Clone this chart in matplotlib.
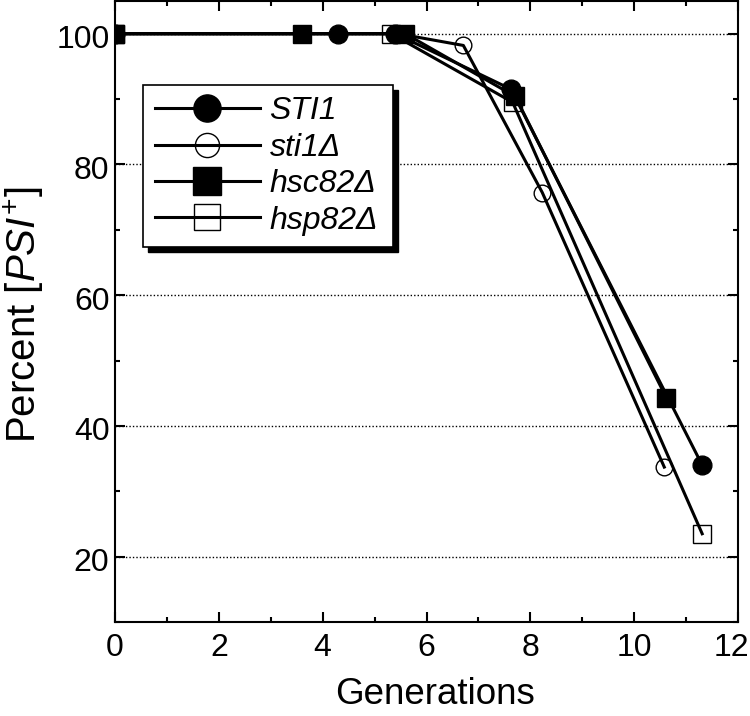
import matplotlib
matplotlib.use("Agg")
import matplotlib.pyplot as plt
from matplotlib.ticker import FixedLocator
from matplotlib.patches import Rectangle
from matplotlib.transforms import ScaledTranslation

plt.rcParams['font.family'] = ['Liberation Sans', 'DejaVu Sans']
plt.rcParams['mathtext.fontset'] = 'custom'
plt.rcParams['mathtext.rm'] = 'Liberation Sans'
plt.rcParams['mathtext.it'] = 'Liberation Sans:italic'

# Data (generations vs percent [PSI+])
sti1_x = [0, 4.3, 5.4, 7.63, 11.31]
sti1_y = [100, 100, 100, 91.5, 34.0]
sti1d_x = [0, 5.45, 6.71, 8.23, 10.58]
sti1d_y = [100, 100, 98.2, 75.7, 33.7]
hsc82d_x = [0, 3.6, 5.59, 7.71, 10.62]
hsc82d_y = [100, 100, 100, 90.4, 44.3]
hsp82d_x = [0, 5.32, 7.66, 11.31]
hsp82d_y = [100, 100, 89.5, 23.5]
labels = ['STI1', 'sti1Δ', 'hsc82Δ', 'hsp82Δ']
x_major = [0, 2, 4, 6, 8, 10, 12]
x_minor = [1, 3, 5, 7, 9, 11]
y_major = [20, 40, 60, 80, 100]
y_minor = [10, 30, 50, 70, 90]

fig = plt.figure(figsize=(7.5, 7.16), dpi=100)
ax = fig.add_axes([115/750, 1 - 622/716, 623/750, 621/716])

ax.set_xlim(0, 12)
ax.set_ylim(10, 105)

for y in y_major:
    ax.axhline(y, color='black', lw=1.0, ls=(0, (1, 1.5)), zorder=1)

lw = 2.2
h_sti1d, = ax.plot(sti1d_x, sti1d_y, '-', color='black', lw=lw, marker='o',
                   ms=12, mfc='none', mec='black', mew=1.0, zorder=3)
h_hsp, = ax.plot(hsp82d_x, hsp82d_y, '-', color='black', lw=lw, marker='s',
                 ms=12.5, mfc='none', mec='black', mew=1.0, zorder=3)
h_sti1, = ax.plot(sti1_x, sti1_y, '-', color='black', lw=lw, marker='o',
                  ms=13.5, mfc='black', mec='black', zorder=4)
h_hsc, = ax.plot(hsc82d_x, hsc82d_y, '-', color='black', lw=lw, marker='s',
                 ms=13.5, mfc='black', mec='black', zorder=5)

ax.xaxis.set_major_locator(FixedLocator(x_major))
ax.xaxis.set_minor_locator(FixedLocator(x_minor))
ax.yaxis.set_major_locator(FixedLocator(y_major))
ax.yaxis.set_minor_locator(FixedLocator(y_minor))
ax.tick_params(which='both', direction='in', top=True, right=True, width=1.5,
               labelsize=23, color='black')
ax.tick_params(which='major', length=7.2)
ax.tick_params(which='minor', length=3.6)
ax.tick_params(axis='x', which='major', pad=8)
ax.tick_params(axis='y', which='major', pad=4)
for s in ax.spines.values():
    s.set_linewidth(1.5)

ax.set_xlabel('Generations', fontsize=26.5, labelpad=10)
ax.xaxis.label.set_x(0.514)
ax.set_ylabel(r'Percent [$\mathit{PSI}^{+}$]', fontsize=29)
ax.yaxis.set_label_coords(-0.1108, 0.494)

# small offsets of tick labels to match reference
for t in ax.get_yticklabels():
    t.set_transform(t.get_transform() + ScaledTranslation(0, -3/100, fig.dpi_scale_trans))
xl = ax.get_xticklabels()
xl[-1].set_transform(xl[-1].get_transform() + ScaledTranslation(-7/100, 0, fig.dpi_scale_trans))

leg = ax.legend([h_sti1, h_sti1d, h_hsc, h_hsp], labels, loc='upper left',
                bbox_to_anchor=(0.045, 0.4, 0.401, 0.465), mode='expand',
                borderaxespad=0,
                prop={'style': 'italic', 'size': 23}, fancybox=False,
                framealpha=1, edgecolor='black', handlelength=3.3,
                handletextpad=0.3, borderpad=0.36, labelspacing=0.2,
                markerscale=1.45)
leg.get_frame().set_linewidth(1.2)
leg.set_zorder(10)

fig.canvas.draw()
bb = leg.get_window_extent()
off = 5
shadow = Rectangle((bb.x0 + off, bb.y0 - off), bb.width, bb.height,
                   transform=None, facecolor='black', edgecolor='black',
                   zorder=9)
ax.add_artist(shadow)

fig.savefig('out.png', dpi=100)
